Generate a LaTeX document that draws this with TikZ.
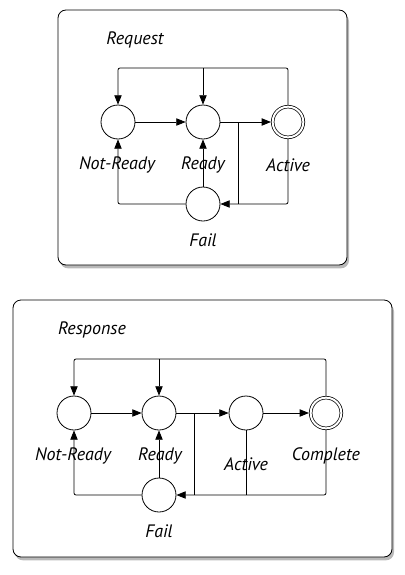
\documentclass[tikz,border=0pt]{standalone}
\usepackage{fontspec}
\setmainfont{PT Sans}
\usetikzlibrary{arrows.meta,shadows}

\begin{document}
\begin{tikzpicture}[x=0.75pt,y=-0.75pt,
	state/.style={draw,circle,minimum size=25.5pt,inner sep=0pt,line width=0.6pt},
	final/.style={draw,circle,minimum size=23pt,inner sep=0pt,line width=0.55pt,double,double distance=1.5pt,outer sep=1.3pt},
	panel/.style={draw,line width=0.6pt,rounded corners=6pt,fill=white,drop shadow={shadow xshift=1.5pt,shadow yshift=-2.5pt,opacity=0.55}},
	lbl/.style={font=\itshape\fontsize{13.5}{16}\selectfont},
	link/.style={line width=0.6pt,rounded corners=1.5pt},
	>={Triangle[length=7pt,width=5.5pt]}]
	\useasboundingbox (0,0) rectangle (404,575);

	% request
	\draw[panel] (58,10) rectangle (347,265);
	\node[lbl] (reqtitle) at (135,40) {Request};
	\node[state] (rqnotready) at (118,122) {};
	\node[state] (rqready) at (203,122) {};
	\node[final] (rqactive) at (288,122) {};
	\node[state] (rqfail) at (203,204) {};
	\node[lbl] (rqnotreadylbl) at (117,165) {Not-Ready};
	\node[lbl] (rqreadylbl) at (203,165) {Ready};
	\node[lbl] (rqactivelbl) at (288,165) {Active};
	\node[lbl] (rqfaillbl) at (203,240) {Fail};
	\coordinate (rqtop) at (203,68);
	\coordinate (rqsplit) at (238,122);

	\draw[link,->] (rqnotready) -- (rqready);
	\draw[link,->] (rqready) -- (rqactive);
	\draw[link,->] (rqactive.north) |- (rqtop) -| (rqnotready.north);
	\draw[link,->] (rqtop) -- (rqready.north);
	\draw[link,->] (rqactive.south) |- (rqfail.east);
	\draw[link] (rqsplit) -- (rqsplit |- rqfail.east);
	\draw[link,->] (rqfail) -- (rqready);
	\draw[link,->] (rqfail.west) -| (rqnotready.south);

	% response
	\draw[panel] (13,300) rectangle (392,557);
	\node[lbl] (rsptitle) at (92,330) {Response};
	\node[state] (rsnotready) at (74,413) {};
	\node[state] (rsready) at (159,413) {};
	\node[state] (rsactive) at (246,413) {};
	\node[final] (rscomplete) at (326,413) {};
	\node[state] (rsfail) at (159,495) {};
	\node[lbl] (rsnotreadylbl) at (73,456) {Not-Ready};
	\node[lbl] (rsreadylbl) at (160,456) {Ready};
	\node[lbl] (rsactivelbl) at (246,464) {Active};
	\node[lbl] (rscompletelbl) at (326,456) {Complete};
	\node[lbl] (rsfaillbl) at (159,531) {Fail};
	\coordinate (rstop) at (159,359);
	\coordinate (rssplit) at (194,413);

	\draw[link,->] (rsnotready) -- (rsready);
	\draw[link,->] (rsready) -- (rsactive);
	\draw[link,->] (rsactive) -- (rscomplete);
	\draw[link,->] (rscomplete.north) |- (rstop) -| (rsnotready.north);
	\draw[link,->] (rstop) -- (rsready.north);
	\draw[link,->] (rscomplete.south) |- (rsfail.east);
	\draw[link] (rsactive.south) -- (rsactive |- rsfail.east);
	\draw[link] (rssplit) -- (rssplit |- rsfail.east);
	\draw[link,->] (rsfail) -- (rsready);
	\draw[link,->] (rsfail.west) -| (rsnotready.south);
\end{tikzpicture}
\end{document}
